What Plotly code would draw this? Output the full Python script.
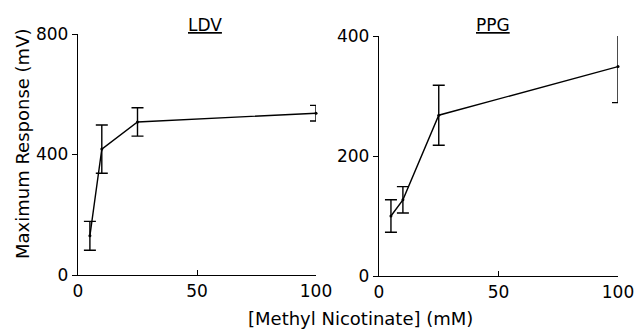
import plotly.graph_objects as go

conc = [5, 10, 25, 100]
ldv_mean = [130, 418, 508, 537]
ldv_err = [48, 80, 47, 26]
ppg_mean = [100, 127, 268, 349]
ppg_err = [27, 22, 50, 60]

FONT = "DejaVu Sans"
W, H = 634, 332

def px(x):
    return x / W

def py(y):
    return 1 - y / H

fig = go.Figure()

def add(x, y, e, xa, ya):
    fig.add_trace(go.Scatter(
        x=x, y=y, mode="lines+markers",
        line=dict(color="black", width=1.4),
        marker=dict(color="black", size=3),
        error_y=dict(type="data", array=e, visible=True, color="black",
                     thickness=1.4, width=6),
        cliponaxis=False,
        xaxis=xa, yaxis=ya, showlegend=False))

add(conc, ldv_mean, ldv_err, "x", "y")
add(conc, ppg_mean, ppg_err, "x2", "y2")

ax_common = dict(showline=True, linecolor="black", linewidth=1.4, showgrid=False,
                 zeroline=False, tickfont=dict(family=FONT, size=17, color="black"),
                 ticklen=5, tickcolor="black", tickwidth=1.4, automargin=False,
                 ticklabeloverflow="allow")

def ann(text, x, y, angle=0, size=17):
    return dict(text=text, x=px(x), y=py(y), xref="paper", yref="paper",
                xanchor="center", yanchor="middle", showarrow=False,
                textangle=angle, font=dict(family=FONT, size=size, color="black"))

fig.update_layout(
    width=W, height=H,
    margin=dict(l=0, r=0, t=0, b=0, autoexpand=False),
    paper_bgcolor="white", plot_bgcolor="white",
    font=dict(family=FONT, size=17, color="black"),
    xaxis=dict(domain=[px(78), px(316)], range=[0, 100], tickvals=[0, 50, 100],
               ticks="inside", anchor="y", **ax_common),
    yaxis=dict(domain=[py(275), py(34)], range=[0, 800], tickvals=[0, 400, 800],
               ticks="outside", anchor="x", **ax_common),
    xaxis2=dict(domain=[px(379), px(618)], range=[0, 100], tickvals=[0, 50, 100],
                ticks="inside", anchor="y2", **ax_common),
    yaxis2=dict(domain=[py(276), py(36)], range=[0, 400], tickvals=[0, 200, 400],
                ticks="outside", anchor="x2", **ax_common),
    annotations=[
        ann("<u>LDV</u>", 205, 25),
        ann("<u>PPG</u>", 493, 25),
        ann("Maximum Response (mV)", 22, 144, angle=-90, size=18),
        ann("[Methyl Nicotinate] (mM)", 360, 318, size=18),
    ],
)

fig.write_html("out.html",
               config={"displayModeBar": False},
               post_script="document.body.style.margin='0';document.body.style.overflow='hidden';")
